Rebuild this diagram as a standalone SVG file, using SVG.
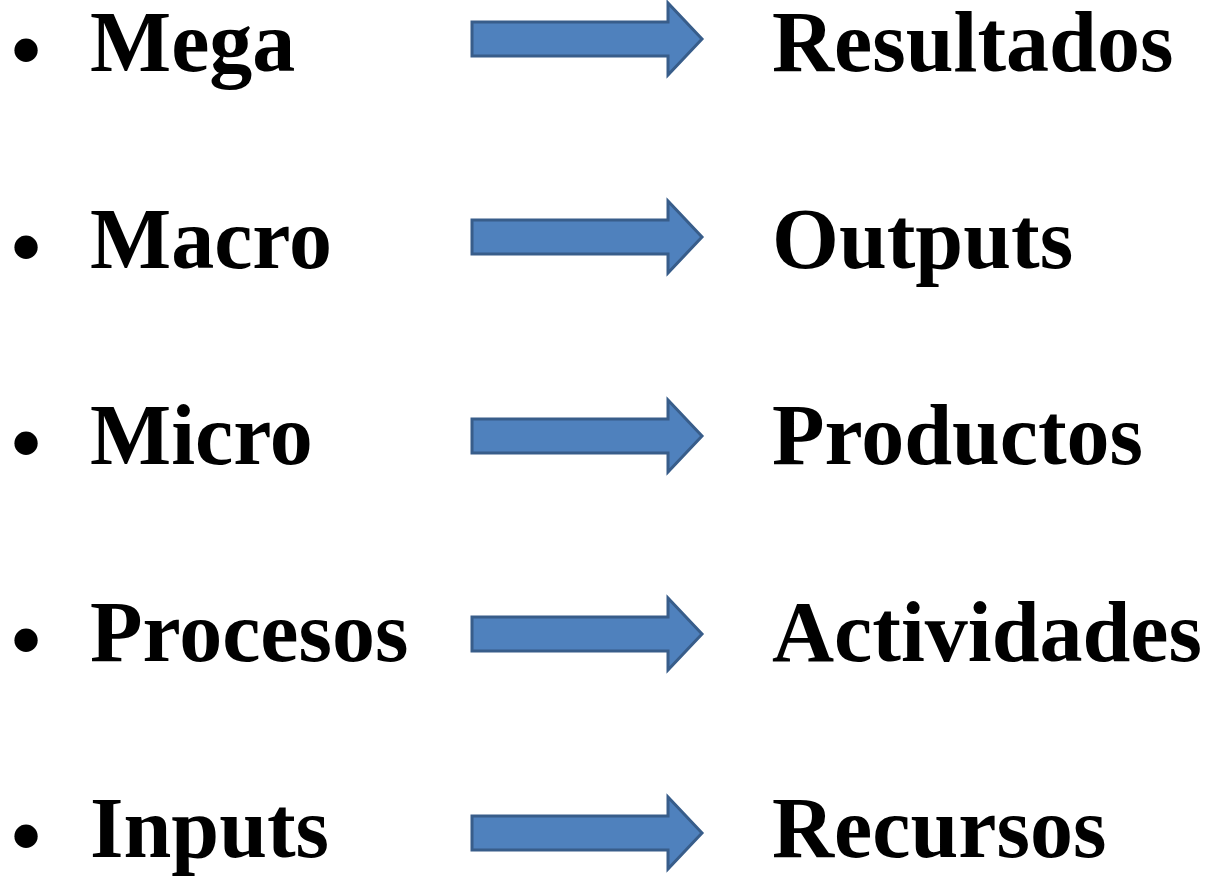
<svg xmlns="http://www.w3.org/2000/svg" width="1207" height="879" viewBox="0 0 1207 879">
<style>
.t{font-family:"Liberation Serif","Times New Roman",serif;font-weight:bold;font-size:86px;fill:#000}
.a{fill:#4F81BD;stroke:#385D8A;stroke-width:3;stroke-linejoin:miter}
</style>
<defs>
<path id="arr" class="a" d="M472,-17 H668 V-36 L702,0 L668,36 V17 H472 Z"/>
</defs>
<rect width="1207" height="879" fill="#fff"/>
<g id="connectors">
<use href="#arr" y="39"/>
<use href="#arr" y="237"/>
<use href="#arr" y="436"/>
<use href="#arr" y="634"/>
<use href="#arr" y="833"/>
</g>
<g id="row-mega"><text class="t" x="11" y="79">•</text><text class="t" x="90" y="71">Mega</text></g>
<g id="row-macro"><text class="t" x="11" y="276">•</text><text class="t" x="90" y="268">Macro</text></g>
<g id="row-micro"><text class="t" x="11" y="472">•</text><text class="t" x="90" y="464">Micro</text></g>
<g id="row-procesos"><text class="t" x="11" y="669">•</text><text class="t" x="90" y="661">Procesos</text></g>
<g id="row-inputs"><text class="t" x="11" y="865">•</text><text class="t" x="90" y="857">Inputs</text></g>
<g id="res-resultados"><text class="t" x="772" y="71">Resultados</text></g>
<g id="res-outputs"><text class="t" x="772" y="268">Outputs</text></g>
<g id="res-productos"><text class="t" x="772" y="464">Productos</text></g>
<g id="res-actividades"><text class="t" x="772" y="661">Actividades</text></g>
<g id="res-recursos"><text class="t" x="772" y="857">Recursos</text></g>
</svg>
